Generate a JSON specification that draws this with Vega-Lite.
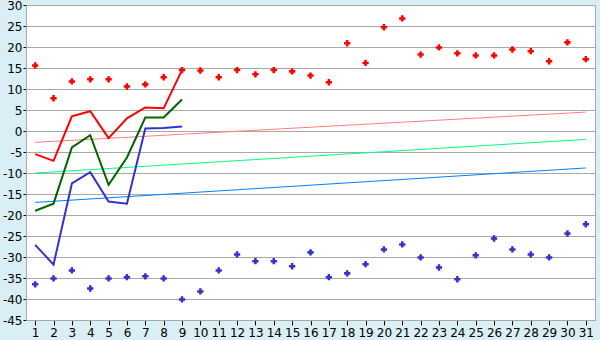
{
  "$schema": "https://vega.github.io/schema/vega-lite/v6.json",
  "width": 569,
  "height": 315,
  "autosize": "none",
  "padding": {"left": 26, "top": 5, "right": 5, "bottom": 20},
  "background": "#d9eff5",
  "config": {
    "view": {"fill": "#ffffff", "stroke": "#a8a8a8", "strokeWidth": 1},
    "axis": {"labelFont": "DejaVu Sans", "labelFontSize": 12, "labelColor": "#000000", "domainColor": "#a8a8a8", "tickColor": "#000000", "title": null}
  },
  "datasets": {
    "points": [
      {"day": 1, "series": "Max", "value": 15.6}, {"day": 2, "series": "Max", "value": 7.8}, {"day": 3, "series": "Max", "value": 11.8}, {"day": 4, "series": "Max", "value": 12.3}, {"day": 5, "series": "Max", "value": 12.3}, {"day": 6, "series": "Max", "value": 10.6}, {"day": 7, "series": "Max", "value": 11.1}, {"day": 8, "series": "Max", "value": 12.8}, {"day": 9, "series": "Max", "value": 14.5}, {"day": 10, "series": "Max", "value": 14.4}, {"day": 11, "series": "Max", "value": 12.8}, {"day": 12, "series": "Max", "value": 14.5}, {"day": 13, "series": "Max", "value": 13.5}, {"day": 14, "series": "Max", "value": 14.5}, {"day": 15, "series": "Max", "value": 14.2}, {"day": 16, "series": "Max", "value": 13.2}, {"day": 17, "series": "Max", "value": 11.6}, {"day": 18, "series": "Max", "value": 20.9}, {"day": 19, "series": "Max", "value": 16.2}, {"day": 20, "series": "Max", "value": 24.7}, {"day": 21, "series": "Max", "value": 26.8}, {"day": 22, "series": "Max", "value": 18.2}, {"day": 23, "series": "Max", "value": 19.9}, {"day": 24, "series": "Max", "value": 18.5}, {"day": 25, "series": "Max", "value": 18.0}, {"day": 26, "series": "Max", "value": 18.0}, {"day": 27, "series": "Max", "value": 19.4}, {"day": 28, "series": "Max", "value": 19.0}, {"day": 29, "series": "Max", "value": 16.6}, {"day": 30, "series": "Max", "value": 21.1}, {"day": 31, "series": "Max", "value": 17.1},
      {"day": 1, "series": "Min", "value": -36.5}, {"day": 2, "series": "Min", "value": -35.1}, {"day": 3, "series": "Min", "value": -33.2}, {"day": 4, "series": "Min", "value": -37.5}, {"day": 5, "series": "Min", "value": -35.1}, {"day": 6, "series": "Min", "value": -34.8}, {"day": 7, "series": "Min", "value": -34.6}, {"day": 8, "series": "Min", "value": -35.1}, {"day": 9, "series": "Min", "value": -40.1}, {"day": 10, "series": "Min", "value": -38.2}, {"day": 11, "series": "Min", "value": -33.2}, {"day": 12, "series": "Min", "value": -29.4}, {"day": 13, "series": "Min", "value": -31.0}, {"day": 14, "series": "Min", "value": -31.0}, {"day": 15, "series": "Min", "value": -32.2}, {"day": 16, "series": "Min", "value": -28.9}, {"day": 17, "series": "Min", "value": -34.8}, {"day": 18, "series": "Min", "value": -33.9}, {"day": 19, "series": "Min", "value": -31.7}, {"day": 20, "series": "Min", "value": -28.2}, {"day": 21, "series": "Min", "value": -27.0}, {"day": 22, "series": "Min", "value": -30.1}, {"day": 23, "series": "Min", "value": -32.5}, {"day": 24, "series": "Min", "value": -35.3}, {"day": 25, "series": "Min", "value": -29.6}, {"day": 26, "series": "Min", "value": -25.6}, {"day": 27, "series": "Min", "value": -28.2}, {"day": 28, "series": "Min", "value": -29.4}, {"day": 29, "series": "Min", "value": -30.1}, {"day": 30, "series": "Min", "value": -24.4}, {"day": 31, "series": "Min", "value": -22.2}
    ],
    "lines": [
      {"day": 1, "series": "High", "value": -5.5}, {"day": 2, "series": "High", "value": -7.1}, {"day": 3, "series": "High", "value": 3.5}, {"day": 4, "series": "High", "value": 4.7}, {"day": 5, "series": "High", "value": -1.7}, {"day": 6, "series": "High", "value": 3.0}, {"day": 7, "series": "High", "value": 5.6}, {"day": 8, "series": "High", "value": 5.4}, {"day": 9, "series": "High", "value": 14.5},
      {"day": 1, "series": "Mean", "value": -19.0}, {"day": 2, "series": "Mean", "value": -17.3}, {"day": 3, "series": "Mean", "value": -3.9}, {"day": 4, "series": "Mean", "value": -1.0}, {"day": 5, "series": "Mean", "value": -12.8}, {"day": 6, "series": "Mean", "value": -6.3}, {"day": 7, "series": "Mean", "value": 3.2}, {"day": 8, "series": "Mean", "value": 3.2}, {"day": 9, "series": "Mean", "value": 7.5},
      {"day": 1, "series": "Low", "value": -27.1}, {"day": 2, "series": "Low", "value": -31.8}, {"day": 3, "series": "Low", "value": -12.5}, {"day": 4, "series": "Low", "value": -9.8}, {"day": 5, "series": "Low", "value": -16.8}, {"day": 6, "series": "Low", "value": -17.3}, {"day": 7, "series": "Low", "value": 0.6}, {"day": 8, "series": "Low", "value": 0.7}, {"day": 9, "series": "Low", "value": 1.1}
    ],
    "trends": [
      {"day": 1, "series": "HighNorm", "value": -2.7}, {"day": 31, "series": "HighNorm", "value": 4.5},
      {"day": 1, "series": "MeanNorm", "value": -10.0}, {"day": 31, "series": "MeanNorm", "value": -2.0},
      {"day": 1, "series": "LowNorm", "value": -17.0}, {"day": 31, "series": "LowNorm", "value": -8.8}
    ]
  },
  "encoding": {
    "x": {"field": "day", "type": "quantitative", "scale": {"domain": [0.5, 31.5], "nice": false, "zero": false},
      "axis": {"values": [1,2,3,4,5,6,7,8,9,10,11,12,13,14,15,16,17,18,19,20,21,22,23,24,25,26,27,28,29,30,31], "grid": false, "tickSize": 5, "labelPadding": 2, "labelFlush": false, "labelOverlap": false}},
    "y": {"field": "value", "type": "quantitative", "scale": {"domain": [-45, 30], "nice": false, "zero": false},
      "axis": {"values": [-45,-40,-35,-30,-25,-20,-15,-10,-5,0,5,10,15,20,25,30], "grid": true, "gridColor": "#a8a8a8", "gridOpacity": 1, "tickSize": 3, "labelPadding": 1, "labelFlush": false, "labelOverlap": false, "labelExpr": "'' + datum.value"}},
    "color": {"field": "series", "type": "nominal", "legend": null,
      "scale": {"domain": ["Max", "Min", "High", "Mean", "Low", "HighNorm", "MeanNorm", "LowNorm"],
        "range": ["#ff0000", "#3333cc", "#ff0000", "#006400", "#3333cc", "#ff8080", "#00ff80", "#0080ff"]}}
  },
  "layer": [
    {"data": {"name": "trends"}, "mark": {"type": "line", "strokeWidth": 1}, "encoding": {"detail": {"field": "series"}}},
    {"data": {"name": "lines"}, "mark": {"type": "line", "strokeWidth": 2}, "encoding": {"detail": {"field": "series"}}},
    {"data": {"name": "points"}, "mark": {"type": "point", "shape": "cross", "filled": true, "size": 40, "opacity": 1}}
  ]
}
